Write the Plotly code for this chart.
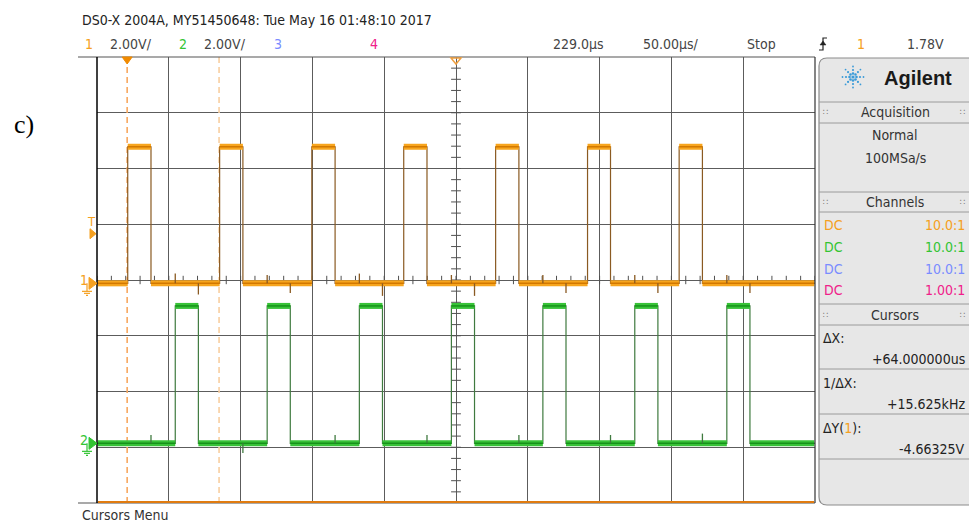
import math
import plotly.graph_objects as go

# ---------------- data ----------------
time_per_div_us = 50.0
delay_us = 229.0
ch1_volts_per_div = 2.0
ch2_volts_per_div = 2.0

ch1_rise_us = [0.4, 64.4, 128.6, 192.6, 256.6, 320.6, 384.4]
ch1_fall_us = [16.6, 80.6, 144.8, 208.8, 272.8, 336.6, 400.6]
ch1_low_v = 0.0
ch1_high_v = 4.9
ch1_ground_div = -0.06

ch2_rise_us = [33.5, 97.5, 161.7, 225.8, 289.5, 353.5, 417.6]
ch2_fall_us = [49.6, 113.6, 177.8, 241.9, 305.6, 369.6, 433.7]
ch2_low_v = 0.0
ch2_high_v = 4.93
ch2_ground_div = -2.93

# coupling glitches seen on the low levels (time us, amplitude V)
ch1_glitch_t = [33.5, 49.6, 97.5, 113.6, 161.7, 177.8, 225.8, 241.9, 289.5, 305.6, 353.5, 369.6, 417.6, 433.7]
ch1_glitch_a = [0.35, -0.40, 0.30, -0.35, 0.35, -0.45, 0.30, -0.45, 0.30, -0.35, 0.30, -0.35, 0.30, -0.35]
ch2_glitch_t = [16.6, 80.6, 144.8, 208.8, 272.8, 336.6, 400.6]
ch2_glitch_a = [0.30, -0.35, 0.30, 0.30, 0.30, 0.30, 0.35]

cursor_x_us = [0.0, 64.0]
trigger_level_v = 1.78

header_line = "DS0-X 2004A, MY51450648: Tue May 16 01:48:10 2017"
panel_channels = [("DC", "10.0:1", "#F5A020"), ("DC", "10.0:1", "#33C433"),
                  ("DC", "10.0:1", "#7A8CFF"), ("DC", "1.00:1", "#F0208A")]
cursor_rows = [("ΔX:", "+64.000000us"), ("1/ΔX:", "+15.625kHz"),
               ("ΔY(<span style='color:#F5A020'>1</span>):", "-4.66325V")]

# ---------------- geometry ----------------
W, H = 969, 523
L, R, T, B = 97, 815, 57, 503
FONT = "Liberation Sans Narrow, DejaVu Sans Condensed, Roboto Condensed, Arial Narrow, sans-serif"


def px(x):
    return (x - L) / (R - L)


def py(y):
    return (B - y) / (B - T)


x0 = delay_us - 5 * time_per_div_us
x1 = delay_us + 5 * time_per_div_us


def to_div(v, vpd, gnd):
    return v / vpd + gnd


def build(rises, falls, low, high, vpd, gnd):
    lo, hi = to_div(low, vpd, gnd), to_div(high, vpd, gnd)
    xs, ys = [x0], [lo]
    for r, f in zip(rises, falls):
        xs += [r, r, f, f]
        ys += [lo, hi, hi, lo]
    xs.append(x1)
    ys.append(lo)
    hx, hy = [], []
    prev = x0 + 0.5
    for r, f in zip(rises, falls):
        hx += [prev, r, None, r, f, None]
        hy += [lo, lo, None, hi, hi, None]
        prev = f
    hx += [prev, x1 - 0.5, None]
    hy += [lo, lo, None]
    return xs, ys, hx, hy, lo


def glitches(ts, amps, base, vpd):
    gx, gy = [], []
    for t, a in zip(ts, amps):
        gx += [t, t, None]
        gy += [base, base + a / vpd, None]
    return gx, gy


fig = go.Figure()

channels = [
    (ch1_rise_us, ch1_fall_us, ch1_low_v, ch1_high_v, ch1_volts_per_div, ch1_ground_div,
     "#8A5A22", "#F7A51E", "#D27800", ch1_glitch_t, ch1_glitch_a),
    (ch2_rise_us, ch2_fall_us, ch2_low_v, ch2_high_v, ch2_volts_per_div, ch2_ground_div,
     "#3F7A3F", "#38C238", "#16921A", ch2_glitch_t, ch2_glitch_a),
]

# crosshair ticks on centre lines
tick_x = [x0 + i * time_per_div_us / 5 for i in range(51)]
fig.add_trace(go.Scatter(x=tick_x, y=[0] * len(tick_x), mode="markers",
                         marker=dict(symbol="line-ns", size=6, line=dict(width=1, color="#505050")),
                         hoverinfo="skip", showlegend=False))
tick_y = [-4 + i * 0.2 for i in range(41)]
fig.add_trace(go.Scatter(x=[delay_us] * len(tick_y), y=tick_y, mode="markers",
                         marker=dict(symbol="line-ew", size=7, line=dict(width=1, color="#505050")),
                         hoverinfo="skip", showlegend=False))

# cursors
for cx, col in zip(cursor_x_us, ["#F7A860", "#F9CFA0"]):
    fig.add_trace(go.Scatter(x=[cx, cx], y=[-4, 4], mode="lines",
                             line=dict(color=col, width=1.6, dash="6px,4px"),
                             hoverinfo="skip", showlegend=False))

for (rises, falls, lo_v, hi_v, vpd, gnd, edge_c, band_c, core_c, gt, ga) in channels:
    xs, ys, hx, hy, base = build(rises, falls, lo_v, hi_v, vpd, gnd)
    fig.add_trace(go.Scatter(x=xs, y=ys, mode="lines", line=dict(color=edge_c, width=1.2),
                             hoverinfo="skip", showlegend=False))
    fig.add_trace(go.Scatter(x=hx, y=hy, mode="lines", line=dict(color=band_c, width=6),
                             hoverinfo="skip", showlegend=False))
    fig.add_trace(go.Scatter(x=hx, y=hy, mode="lines", line=dict(color=core_c, width=1.5),
                             hoverinfo="skip", showlegend=False))
    gx, gy = glitches(gt, ga, base, vpd)
    fig.add_trace(go.Scatter(x=gx, y=gy, mode="lines", line=dict(color=edge_c, width=1.3),
                             hoverinfo="skip", showlegend=False))

shapes = []
anns = []


def line_px(xa, ya, xb, yb, color, width=1):
    shapes.append(dict(type="line", xref="paper", yref="paper", x0=px(xa), y0=py(ya),
                       x1=px(xb), y1=py(yb), line=dict(color=color, width=width), layer="above"))


def text_px(x, y, s, size=14, color="#333333", anchor="left", family=FONT, bold=False):
    if bold:
        s = "<b>" + s + "</b>"
    anns.append(dict(x=px(x), y=py(y), xref="paper", yref="paper", text=s, showarrow=False,
                     xanchor=anchor, yanchor="middle", font=dict(size=size, color=color, family=family)))


# frame
line_px(78, T, R, T, "#555555", 1.2)
line_px(78, B, R, B, "#555555", 1.2)
line_px(L, T, L, B, "#000000", 1.5)
line_px(R, T, R, B, "#333333", 1.2)
line_px(L + 1, B - 1, R - 1, B - 1, "#E07B10", 2)

# header
text_px(80, 20, header_line, 14, "#222222")
text_px(83, 44, "1", 14, "#F5A020")
text_px(108, 44, "2.00V/", 14, "#444444")
text_px(177, 44, "2", 14, "#33C433")
text_px(202, 44, "2.00V/", 14, "#444444")
text_px(272, 44, "3", 14, "#7A8CFF")
text_px(368, 44, "4", 14, "#F0208A")
text_px(551, 44, "229.0µs", 14, "#444444")
text_px(641, 44, "50.00µs/", 14, "#444444")
text_px(745, 44, "Stop", 14, "#444444")
text_px(855, 44, "1", 14, "#F5A020")
text_px(946, 44, "1.78V", 14, "#444444", anchor="right")
# trigger edge icon
shapes.append(dict(type="path", xref="paper", yref="paper", layer="above",
                   path="M %f,%f L %f,%f L %f,%f L %f,%f" % (px(819), py(50), px(823), py(50), px(823), py(38), px(827), py(38)),
                   line=dict(color="#222222", width=1.2)))
shapes.append(dict(type="path", xref="paper", yref="paper", layer="above",
                   path="M %f,%f L %f,%f L %f,%f Z" % (px(820), py(45), px(826), py(45), px(823), py(41)),
                   fillcolor="#222222", line=dict(color="#222222", width=0.5)))

# c) label
text_px(12, 124, "c)", 26, "#000000", family="Liberation Serif, Times New Roman, serif")

# top markers: trigger point (filled) and delay reference (outline)
tx = L + (0 - x0) / (x1 - x0) * (R - L)
shapes.append(dict(type="path", xref="paper", yref="paper", layer="above",
                   path="M %f,%f L %f,%f L %f,%f Z" % (px(tx - 5), py(57), px(tx + 5), py(57), px(tx), py(64)),
                   fillcolor="#F08A00", line=dict(color="#F08A00", width=1)))
dx = L + (delay_us - x0) / (x1 - x0) * (R - L)
shapes.append(dict(type="path", xref="paper", yref="paper", layer="above",
                   path="M %f,%f L %f,%f L %f,%f Z" % (px(dx - 5), py(58), px(dx + 5), py(58), px(dx), py(64)),
                   fillcolor="rgba(0,0,0,0)", line=dict(color="#F0A040", width=1.5)))


def ypix(div):
    return T + (4 - div) / 8 * (B - T)


def ground_marker(ydiv, label, color):
    yy = ypix(ydiv)
    text_px(84, yy - 3, label, 14, color, anchor="center")
    shapes.append(dict(type="path", xref="paper", yref="paper", layer="above",
                       path="M %f,%f L %f,%f L %f,%f Z" % (px(89), py(yy - 6), px(97), py(yy), px(89), py(yy + 6)),
                       fillcolor=color, line=dict(color=color, width=1)))
    line_px(87, yy, 87, yy + 8, color, 1.2)
    line_px(82, yy + 8, 92, yy + 8, color, 1.2)
    line_px(84, yy + 10, 90, yy + 10, color, 1.2)
    line_px(86, yy + 12, 88, yy + 12, color, 1.2)


ground_marker(ch1_ground_div, "1", "#F5A020")
ground_marker(ch2_ground_div, "2", "#33C433")

# trigger level marker
ty = ypix(trigger_level_v / ch1_volts_per_div + ch1_ground_div)
text_px(91, ty - 12, "T", 13, "#F5A020", anchor="center")
shapes.append(dict(type="path", xref="paper", yref="paper", layer="above",
                   path="M %f,%f L %f,%f L %f,%f Z" % (px(90), py(ty - 5), px(96), py(ty), px(90), py(ty + 5)),
                   fillcolor="#F5A020", line=dict(color="#F5A020", width=1)))

# ---------------- right panel ----------------
PL, PR, PT, PB = 819, 975, 58, 505
rr = 8
shapes.append(dict(type="path", xref="paper", yref="paper", layer="below",
                   path=("M %f,%f L %f,%f Q %f,%f %f,%f L %f,%f L %f,%f L %f,%f Q %f,%f %f,%f Z" % (
                       px(PL), py(PT + rr), px(PL), py(PB - rr), px(PL), py(PB), px(PL + rr), py(PB),
                       px(PR), py(PB), px(PR), py(PT), px(PL + rr), py(PT), px(PL), py(PT), px(PL), py(PT + rr))),
                   fillcolor="#E7E7E7", line=dict(color="#8C8C8C", width=1.2)))

# Agilent spark logo
cxl, cyl = 853, 77
for k in range(8):
    ang = k * math.pi / 4
    for rad, s in [(3.5, 1.3), (7, 1.1), (10.5, 0.9)]:
        xx = cxl + rad * math.cos(ang)
        yy = cyl + rad * math.sin(ang)
        shapes.append(dict(type="circle", xref="paper", yref="paper", layer="above",
                           x0=px(xx - s), x1=px(xx + s), y0=py(yy + s), y1=py(yy - s),
                           fillcolor="#3B9BD8", line=dict(width=0)))
shapes.append(dict(type="circle", xref="paper", yref="paper", layer="above",
                   x0=px(cxl - 1.6), x1=px(cxl + 1.6), y0=py(cyl + 1.6), y1=py(cyl - 1.6),
                   fillcolor="#3B9BD8", line=dict(width=0)))
text_px(918, 78, "Agilent", 20, "#1A1A1A", anchor="center", bold=True,
        family="Liberation Sans, Arial, sans-serif")


def header(y0, y1, label):
    line_px(PL, y0, R + 160, y0, "#9A9A9A", 1)
    line_px(PL, y1, R + 160, y1, "#9A9A9A", 1)
    text_px(895, (y0 + y1) / 2, label, 14, "#333333", anchor="center")
    text_px(825, (y0 + y1) / 2, "∷", 9, "#777777", anchor="center")
    text_px(962, (y0 + y1) / 2, "∷", 9, "#777777", anchor="center")


header(102, 123, "Acquisition")
text_px(895, 135, "Normal", 14, "#333333", anchor="center")
text_px(895, 158, "100MSa/s", 14, "#333333", anchor="center")

header(192, 212, "Channels")
for i, (a, b, col) in enumerate(panel_channels):
    yy = 225 + i * 21.8
    text_px(822, yy, a, 14, col)
    text_px(967, yy, b, 14, col, anchor="right")

header(304, 325, "Cursors")
cy = 338
for lab, val in cursor_rows:
    text_px(821, cy, lab, 14, "#222222")
    text_px(967, cy + 21, val, 14, "#222222", anchor="right")
    line_px(PL, cy + 31, R + 160, cy + 31, "#9A9A9A", 1)
    cy += 45

text_px(80, 515, "Cursors Menu", 14, "#333333")

fig.update_layout(
    width=W, height=H,
    margin=dict(l=L, r=W - R, t=T, b=H - B, pad=0),
    paper_bgcolor="#FFFFFF", plot_bgcolor="#FFFFFF",
    shapes=shapes, annotations=anns, showlegend=False,
    xaxis=dict(range=[x0, x1], tickmode="linear", tick0=x0, dtick=time_per_div_us,
               showticklabels=False, ticks="", showgrid=True, gridcolor="#5C5C5C", gridwidth=1,
               zeroline=False, showline=False, fixedrange=True),
    yaxis=dict(range=[-4, 4], tickmode="linear", tick0=0, dtick=1,
               showticklabels=False, ticks="", showgrid=True, gridcolor="#5C5C5C", gridwidth=1,
               zeroline=False, showline=False, fixedrange=True),
)

fig.write_html("out.html", config={"displayModeBar": False},
               post_script="document.body.style.margin='0';document.body.style.overflow='hidden';")
